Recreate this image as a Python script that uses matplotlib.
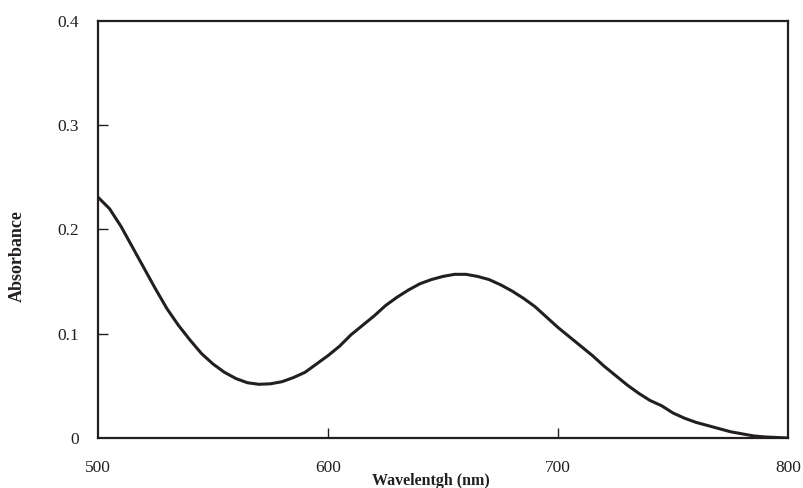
import matplotlib
matplotlib.use("Agg")
import matplotlib.pyplot as plt
import numpy as np

# wavelength grid (nm), 5 nm steps
WAVELENGTH = np.arange(500, 805, 5)
ABSORBANCE = [
    0.231, 0.220, 0.203, 0.183, 0.163, 0.143, 0.124, 0.108, 0.094, 0.081,
    0.071, 0.063, 0.057, 0.053, 0.0515, 0.052, 0.054, 0.058, 0.063, 0.071,
    0.079, 0.088, 0.099, 0.108, 0.117, 0.127, 0.135, 0.142, 0.148, 0.152,
    0.155, 0.157, 0.157, 0.155, 0.152, 0.147, 0.141, 0.134, 0.126, 0.116,
    0.106, 0.097, 0.088, 0.079, 0.069, 0.060, 0.051, 0.043, 0.036, 0.031,
    0.024, 0.019, 0.015, 0.012, 0.009, 0.006, 0.004, 0.002, 0.001, 0.0005,
    0.0,
]
X_TICKS = [500, 600, 700, 800]
Y_TICKS = [0, 0.1, 0.2, 0.3, 0.4]
Y_TICK_LABELS = ["0", "0.1", "0.2", "0.3", "0.4"]

plt.rcParams["font.family"] = ["Liberation Serif", "DejaVu Serif"]
TEXT = "#231f20"

fig = plt.figure(figsize=(8.04, 4.88), dpi=100)
ax = fig.add_axes([98 / 804, 50 / 488, 690 / 804, 417 / 488])

ax.plot(WAVELENGTH, ABSORBANCE, color=TEXT, linewidth=2.2, solid_capstyle="round")

ax.set_xlim(500, 800)
ax.set_ylim(0, 0.4)
ax.set_xticks(X_TICKS)
ax.set_yticks(Y_TICKS)
ax.set_yticklabels(Y_TICK_LABELS)

for side in ["top", "right", "left", "bottom"]:
    ax.spines[side].set_linewidth(1.6)
    ax.spines[side].set_color(TEXT)

ax.tick_params(axis="x", direction="in", length=7, width=1.0, pad=16,
               labelsize=12.5, colors=TEXT)
ax.tick_params(axis="y", direction="in", length=7, width=1.0, pad=14,
               labelsize=12.5, colors=TEXT)
# hide the corner tick marks, keep labels
for t in [ax.xaxis.get_major_ticks()[0], ax.xaxis.get_major_ticks()[-1],
          ax.yaxis.get_major_ticks()[0], ax.yaxis.get_major_ticks()[-1]]:
    t.tick1line.set_visible(False)

ax.set_xlabel("Wavelentgh (nm)", fontsize=11.5, fontweight="bold", color=TEXT)
ax.xaxis.set_label_coords((431 - 98) / 690, -0.085)
ax.set_ylabel("Absorbance", fontsize=13, fontweight="bold", color=TEXT)
ax.yaxis.set_label_coords(-0.104, (438 - 256) / 417)

fig.savefig("out.png", dpi=100)
